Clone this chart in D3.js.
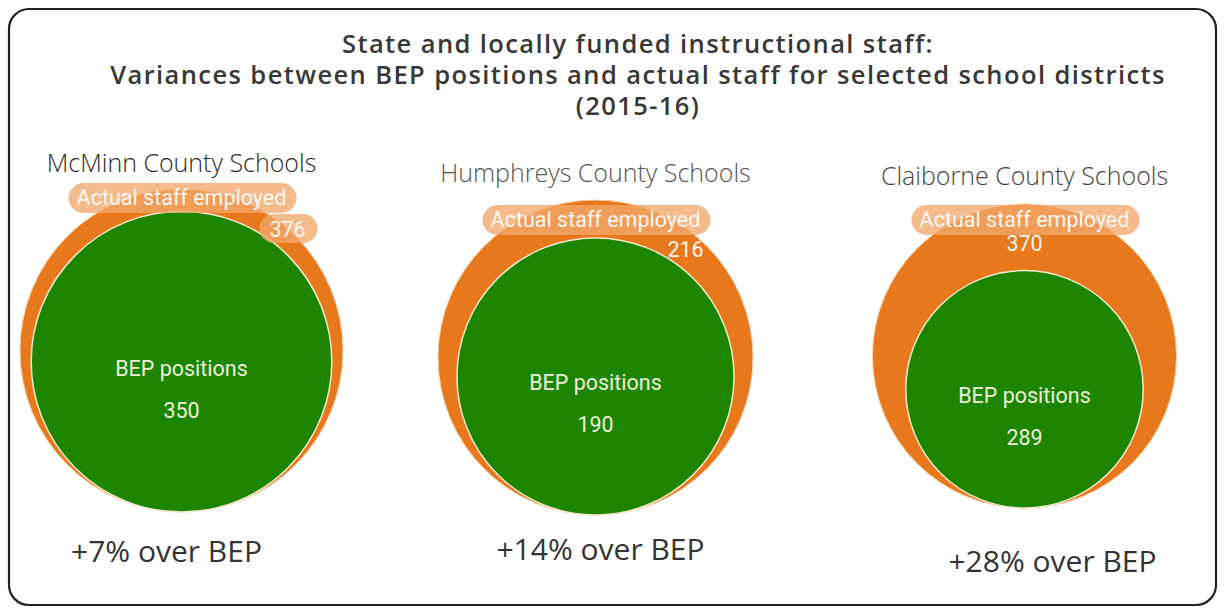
<!DOCTYPE html>
<html>
<head>
<meta charset="utf-8">
<script src="https://cdn.jsdelivr.net/npm/d3@7"></script>
<style>
  body { margin: 0; background: #fff; }
  svg { display: block; }
</style>
</head>
<body>
<div id="chart"></div>
<script>
// data
const districts = ["McMinn County Schools", "Humphreys County Schools", "Claiborne County Schools"];
const bepPositions = [350, 190, 289];
const actualStaff = [376, 216, 370];
const titleLines = [
  "State and locally funded instructional staff:",
  "Variances between BEP positions and actual staff for selected school districts",
  "(2015-16)"
];

// layout per panel
const panelX = [181.5, 595.5, 1024.5];
const panelBottom = [512, 515, 508];
const outerR = [161.5, 157.5, 152];
const nameY = [172, 182, 185];
const nameColor = ["#2a2a2a", "#555", "#444"];
const pillY = [198, 220, 220];
const valueDX = [106, 90, 0];
const valueY = [237, 257, 251];
const footDX = [-15, 5, 28];
const footY = [562, 560, 572];

const width = 1225, height = 613;
const svg = d3.select("#chart").append("svg")
    .attr("width", width)
    .attr("height", height);

// frame
svg.append("rect")
    .attr("x", 9).attr("y", 9)
    .attr("width", width - 18).attr("height", height - 17)
    .attr("rx", 20).attr("ry", 20)
    .attr("fill", "#fff")
    .attr("stroke", "#222")
    .attr("stroke-width", 2.2);

// title
svg.append("g").selectAll("text")
    .data(titleLines)
    .enter().append("text")
    .attr("x", 638)
    .attr("y", (d, i) => 53 + i * 31)
    .attr("text-anchor", "middle")
    .style("font-family", "'Open Sans', sans-serif")
    .style("font-weight", 600)
    .style("font-size", "25.5px")
    .style("letter-spacing", "1.4px")
    .style("fill", "#383838")
    .text(d => d);

const pct = d3.format("+.0%");

districts.forEach(function(name, i) {
    const r = d3.scaleLinear().domain([0, actualStaff[i]]).range([0, outerR[i]]);
    const cx = panelX[i];
    const g = svg.append("g");

    g.append("text")
        .attr("x", cx)
        .attr("y", nameY[i])
        .attr("text-anchor", "middle")
        .style("font-family", "'Open Sans', sans-serif")
        .style("font-weight", 300)
        .style("font-size", "25px")
        .style("fill", nameColor[i])
        .text(name);

    // actual staff (outer)
    g.append("circle")
        .attr("cx", cx)
        .attr("cy", panelBottom[i] - r(actualStaff[i]))
        .attr("r", r(actualStaff[i]))
        .attr("fill", "#e8781c")
        .attr("stroke", "#f7cfa8")
        .attr("stroke-width", 1);

    // BEP positions (inner), bottom aligned
    const gy = panelBottom[i] - r(bepPositions[i]);
    g.append("circle")
        .attr("cx", cx)
        .attr("cy", gy)
        .attr("r", r(bepPositions[i]))
        .attr("fill", "#1e8500")
        .attr("stroke", "#f2ead0")
        .attr("stroke-width", 1.5);

    g.append("text")
        .attr("x", cx)
        .attr("y", gy + 14)
        .attr("text-anchor", "middle")
        .style("font-family", "Roboto, sans-serif")
        .style("font-size", "21.5px")
        .style("fill", "#e9f1dc")
        .text("BEP positions");

    g.append("text")
        .attr("x", cx)
        .attr("y", gy + 56)
        .attr("text-anchor", "middle")
        .style("font-family", "Roboto, sans-serif")
        .style("font-size", "21.5px")
        .style("fill", "#e9f1dc")
        .text(bepPositions[i]);

    // pill label
    const pillW = 228, pillH = 30;
    g.append("rect")
        .attr("x", cx - pillW / 2 + 1)
        .attr("y", pillY[i] - pillH / 2)
        .attr("width", pillW).attr("height", pillH)
        .attr("rx", pillH / 2)
        .attr("fill", "#f2a86c")
        .attr("fill-opacity", 0.78);

    if (i === 0) {
        g.append("rect")
            .attr("x", cx + valueDX[i] - 28)
            .attr("y", valueY[i] - 23)
            .attr("width", 58).attr("height", 29)
            .attr("rx", 14.5)
            .attr("fill", "#f2a86c")
            .attr("fill-opacity", 0.78);
    }

    g.append("text")
        .attr("x", cx)
        .attr("y", pillY[i] + 7)
        .attr("text-anchor", "middle")
        .style("font-family", "Roboto, sans-serif")
        .style("font-size", "21.5px")
        .style("fill", "#fff8f0")
        .text("Actual staff employed");

    g.append("text")
        .attr("x", cx + valueDX[i])
        .attr("y", valueY[i])
        .attr("text-anchor", "middle")
        .style("font-family", "Roboto, sans-serif")
        .style("font-size", "21.5px")
        .style("fill", "#fff8f0")
        .text(actualStaff[i]);

    g.append("text")
        .attr("x", cx + footDX[i])
        .attr("y", footY[i])
        .attr("text-anchor", "middle")
        .style("font-family", "'Open Sans', sans-serif")
        .style("font-size", "30px")
        .style("fill", "#333")
        .text(pct(actualStaff[i] / bepPositions[i] - 1) + " over BEP");
});
</script>
</body>
</html>
